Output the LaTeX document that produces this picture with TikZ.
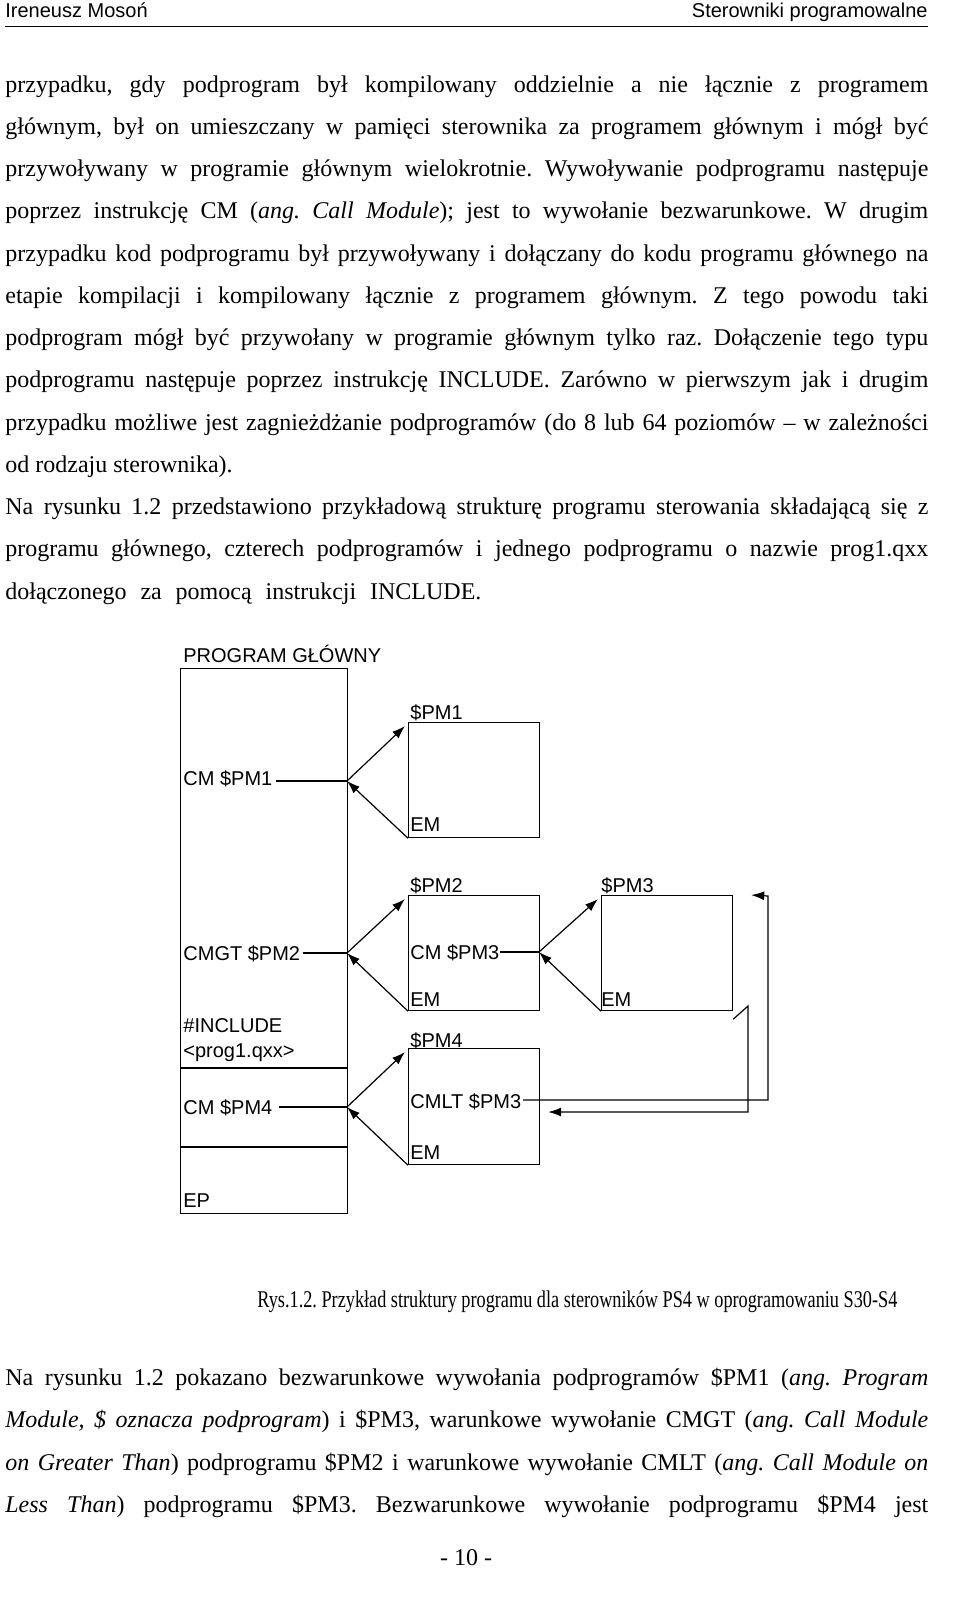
\documentclass[tikz,border=0pt]{standalone}
\usepackage{fontspec}
\setmainfont{Liberation Serif}
\setsansfont{Liberation Sans}
\usetikzlibrary{arrows.meta}
\frenchspacing

\tikzset{
    blok/.style={draw, line width=0.6pt, anchor=north west, inner sep=0pt},
    etykieta/.style={font=\sffamily\fontsize{10}{12}\selectfont, anchor=base west, inner sep=0pt},
    wiersz/.style={anchor=base west, inner sep=0pt, font=\fontsize{12}{14}\selectfont},
    linia/.style={line width=0.6pt},
    strzalka/.style={line width=0.6pt, -{Latex[length=6.5pt,width=4.5pt]}}
}
% justowany wiersz tekstu
\newcommand{\jw}[1]{\makebox[461.5pt][s]{#1}}

\begin{document}
\begin{tikzpicture}[x=0.5pt,y=-0.5pt]
    \useasboundingbox (0,0) rectangle (960,1613);

    % Naglowek strony
    \node[anchor=base west, inner sep=0pt, font=\sffamily\fontsize{10}{12}\selectfont] (autor) at (5,17) {Ireneusz Mosoń};
    \node[anchor=base east, inner sep=0pt, font=\sffamily\fontsize{10}{12}\selectfont] (tytul) at (928,17) {Sterowniki programowalne};
    \draw[line width=0.5pt] (5,26) -- (928,26);

    % Tekst nad rysunkiem
    \node[wiersz] (w1) at (5,92) {\jw{przypadku, gdy podprogram był kompilowany oddzielnie a nie łącznie z programem}};
    \node[wiersz] (w2) at (5,134) {\jw{głównym, był on umieszczany w pamięci sterownika za programem głównym i mógł być}};
    \node[wiersz] (w3) at (5,176) {\jw{przywoływany w programie głównym wielokrotnie. Wywoływanie podprogramu następuje}};
    \node[wiersz] (w4) at (5,218) {\jw{poprzez instrukcję CM (\textit{ang. Call Module}); jest to wywołanie bezwarunkowe. W drugim}};
    \node[wiersz] (w5) at (5,261) {\jw{przypadku kod podprogramu był przywoływany i dołączany do kodu programu głównego na}};
    \node[wiersz] (w6) at (5,303) {\jw{etapie kompilacji i kompilowany łącznie z programem głównym. Z tego powodu taki}};
    \node[wiersz] (w7) at (5,345) {\jw{podprogram mógł być przywołany w programie głównym tylko raz. Dołączenie tego typu}};
    \node[wiersz] (w8) at (5,387) {\jw{podprogramu następuje poprzez instrukcję INCLUDE. Zarówno w pierwszym jak i drugim}};
    \node[wiersz] (w9) at (5,430) {\jw{przypadku możliwe jest zagnieżdżanie podprogramów (do 8 lub 64 poziomów – w zależności}};
    \node[wiersz] (w10) at (5,472) {od rodzaju sterownika).};
    \node[wiersz] (w11) at (5,514) {\jw{Na rysunku 1.2 przedstawiono przykładową strukturę programu sterowania składającą się z}};
    \node[wiersz] (w12) at (5,556) {\jw{programu głównego, czterech podprogramów i jednego podprogramu o nazwie prog1.qxx}};
    \node[wiersz] (w13) at (5,599) {\makebox[238pt][s]{dołączonego \ za \ pomocą \ instrukcji \ INCLUDE.}};

    % Program glowny
    \node[blok, minimum width=83.5pt, minimum height=272.5pt] (glowny) at (180,668) {};
    \node[etykieta] (tglowny) at (183,662) {PROGRAM GŁÓWNY};
    \draw[linia] (180,1068) -- (347,1068);
    \draw[linia] (180,1147) -- (347,1147);
    \node[etykieta] (cm1) at (183,785) {CM \$PM1};
    \node[etykieta] (cmgt) at (183,960) {CMGT \$PM2};
    \node[etykieta] (inc) at (183,1032) {\#INCLUDE};
    \node[etykieta] (prog) at (183,1057) {<prog1.qxx>};
    \node[etykieta] (cm4) at (183,1114) {CM \$PM4};
    \node[etykieta] (ep) at (183,1207) {EP};

    % Podprogramy
    \node[blok, minimum width=65.5pt, minimum height=57.5pt] (pm1) at (408,722) {};
    \node[blok, minimum width=65.5pt, minimum height=57.5pt] (pm2) at (408,895) {};
    \node[blok, minimum width=65.5pt, minimum height=57.5pt] (pm3) at (601,895) {};
    \node[blok, minimum width=65.5pt, minimum height=58pt] (pm4) at (408,1048) {};
    \node[etykieta] (tpm1) at (410,719) {\$PM1};
    \node[etykieta] (em1) at (410,831) {EM};
    \node[etykieta] (tpm2) at (410,892) {\$PM2};
    \node[etykieta] (cm3) at (410,959) {CM \$PM3};
    \node[etykieta] (em2) at (410,1006) {EM};
    \node[etykieta] (tpm3) at (601,892) {\$PM3};
    \node[etykieta] (em3) at (601,1006) {EM};
    \node[etykieta] (tpm4) at (410,1047) {\$PM4};
    \node[etykieta] (cmlt) at (410,1108) {CMLT \$PM3};
    \node[etykieta] (em4) at (410,1159) {EM};

    % Punkty wywolan
    \coordinate (j1) at (347,781);
    \coordinate (j2) at (347,953);
    \coordinate (j3) at (539,952);
    \coordinate (j4) at (347,1107);

    % Wywolania i powroty
    \draw[linia] (276,781) -- (j1);
    \draw[strzalka] (j1) -- ([shift={(-3,4)}]pm1.north west);
    \draw[strzalka] (pm1.south west) -- (j1);
    \draw[linia] (303,953) -- (j2);
    \draw[strzalka] (j2) -- ([shift={(-3,4)}]pm2.north west);
    \draw[strzalka] (pm2.south west) -- (j2);
    \draw[linia] (500,952) -- (j3);
    \draw[strzalka] (j3) -- ([shift={(-3,4)}]pm3.north west);
    \draw[strzalka] (pm3.south west) -- (j3);
    \draw[linia] (279,1107) -- (j4);
    \draw[strzalka] (j4) -- ([shift={(-3,4)}]pm4.north west);
    \draw[strzalka] (pm4.south west) -- (j4);

    % CMLT $PM3
    \draw[strzalka] (523,1100) -- (768,1100) -- (768,896) -- ([xshift=9]pm3.north east);
    \draw[strzalka] ([yshift=-4]pm3.south east) -- (748,1006) -- (748,1112) -- ([xshift=4]pm4.east |- 0,1112);

    % Podpis i tekst pod rysunkiem
    \node[wiersz] (rys) at (257,1307) {\resizebox{320pt}{\height}{Rys.1.2. Przykład struktury programu dla sterowników PS4 w oprogramowaniu S30-S4}};
    \node[wiersz] (w14) at (5,1385) {\jw{Na rysunku 1.2 pokazano bezwarunkowe wywołania podprogramów \$PM1 (\textit{ang. Program}}};
    \node[wiersz] (w15) at (5,1427) {\jw{\textit{Module, \$ oznacza podprogram}) i \$PM3, warunkowe wywołanie CMGT (\textit{ang. Call Module}}};
    \node[wiersz] (w16) at (5,1470) {\jw{\textit{on Greater Than}) podprogramu \$PM2 i warunkowe wywołanie CMLT (\textit{ang. Call Module on}}};
    \node[wiersz] (w17) at (5,1512) {\jw{\textit{Less Than}) podprogramu \$PM3. Bezwarunkowe wywołanie podprogramu \$PM4 jest}};
    \node[wiersz, anchor=base] (strona) at (466,1565) {- 10 -};
\end{tikzpicture}
\end{document}
